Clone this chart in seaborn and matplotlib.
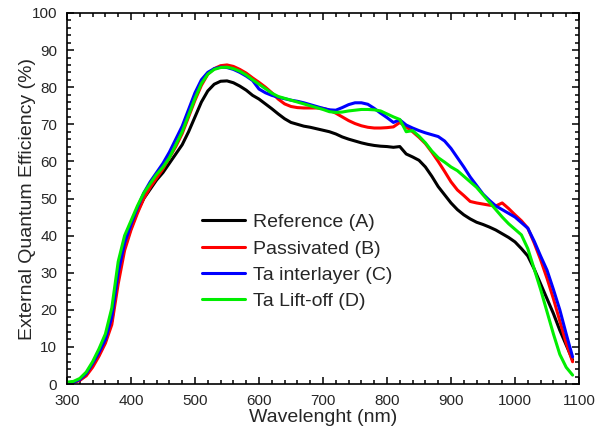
import pandas as pd
import numpy as np
import matplotlib
matplotlib.use("Agg")
import matplotlib.pyplot as plt
import seaborn as sns
from matplotlib.ticker import MultipleLocator

# wavelength grid (nm)
wavelength = list(range(300, 1100, 10))

ref_a = [0.3, 0.5, 1.0, 2.5, 5.0, 8.0, 11.5, 17, 29, 37,
         42, 46.5, 50, 52.5, 55, 57, 59.5, 62, 64.5, 68,
         72, 76, 79, 80.8, 81.6, 81.7, 81.2, 80.3, 79.2, 77.8,
         76.8, 75.5, 74.2, 72.8, 71.5, 70.5, 70.0, 69.5, 69.2, 68.8,
         68.4, 68.0, 67.4, 66.6, 66.0, 65.5, 65.0, 64.6, 64.3, 64.1,
         64.0, 63.8, 64.0, 62.0, 61.2, 60.3, 58.5, 56.0, 53.2, 51.0,
         48.8, 47.0, 45.6, 44.5, 43.6, 43.0, 42.3, 41.5, 40.5, 39.5,
         38.3, 36.5, 34.5, 31.0, 27.0, 23.0, 19.0, 14.5, 10.5, 6.5]

passivated_b = [0.3, 0.5, 1.0, 2.2, 4.5, 7.5, 11, 16, 27, 36,
                41.5, 46, 50, 53, 55.5, 58, 61, 64, 67.5, 72,
                76.5, 80.5, 83.5, 85, 85.8, 86, 85.6, 84.8, 83.8, 82.5,
                81.3, 80, 78.5, 76.8, 75.5, 74.8, 74.5, 74.4, 74.4, 74.4,
                74.3, 73.8, 73, 72, 71, 70.2, 69.6, 69.2, 69, 69,
                69.1, 69.3, 70.5, 69.3, 68, 66.5, 64.8, 62.5, 60, 57.3,
                54.5, 52.3, 50.8, 49.2, 48.8, 48.5, 48.2, 48, 48.8, 47.3,
                45.6, 44, 42, 38, 33.5, 28.5, 23, 17, 11, 6]

ta_interlayer_c = [0.3, 0.5, 1.2, 2.8, 5.5, 8.5, 12, 18, 30, 38,
                   43, 47.5, 51.5, 54.5, 57, 59.5, 62.5, 66, 69.5, 74,
                   78.5, 82, 84, 85, 85.4, 85.3, 84.8, 84, 83, 81.8,
                   79.5, 78.5, 77.8, 77.3, 76.9, 76.5, 76.2, 75.8, 75.3, 74.8,
                   74.3, 73.9, 73.8, 74.5, 75.3, 75.8, 75.8, 75.4, 74.3, 73,
                   71.8, 70.5, 71.2, 69.8, 69, 68.3, 67.7, 67.2, 66.7, 65.5,
                   63.5, 61, 58.5, 55.8, 53.5, 51.2, 49.5, 48, 47, 46,
                   45, 43.5, 42, 38.5, 34.5, 30.7, 25.5, 20, 13.5, 7.3]

ta_liftoff_d = [0.5, 0.7, 1.5, 3.2, 6, 9.5, 13.5, 20.5, 33, 40,
                44, 48, 51.5, 54, 56.5, 58.5, 61, 64.5, 68, 72.5,
                77, 81, 83.5, 84.8, 85.3, 85.4, 85, 84.3, 83.3, 82,
                80.8, 79.6, 78.4, 77.5, 77, 76.5, 76, 75.5, 75, 74.5,
                74, 73.4, 73.2, 73.3, 73.6, 73.8, 74, 74, 73.9, 73.6,
                72.8, 72, 71.3, 68, 68.3, 66.8, 65, 62.8, 61, 59.8,
                58.5, 57.5, 56, 54.5, 53, 51, 49, 47, 45, 43.2,
                41.7, 40.2, 36.5, 31, 25.5, 19.5, 13.5, 8, 4.5, 2.4]

labels = ['Reference (A)', 'Passivated (B)', 'Ta interlayer (C)', 'Ta Lift-off (D)']
colors = ['#000000', '#ff0000', '#0000ff', '#00ee00']

df = pd.DataFrame({'Wavelength': wavelength,
                   labels[0]: ref_a,
                   labels[1]: passivated_b,
                   labels[2]: ta_interlayer_c,
                   labels[3]: ta_liftoff_d})
long_df = df.melt(id_vars='Wavelength', var_name='Sample', value_name='EQE')

sns.set_style('ticks')
plt.rcParams['font.family'] = ['Liberation Sans', 'DejaVu Sans']

fig = plt.figure(figsize=(6.16, 4.34), dpi=100)
ax = fig.add_axes([67 / 616, 1 - 384 / 434, 512 / 616, 371 / 434])

sns.lineplot(data=long_df, x='Wavelength', y='EQE', hue='Sample',
             hue_order=labels, palette=colors, linewidth=2.2, ax=ax)

ax.set_xlim(300, 1100)
ax.set_ylim(0, 100)
ax.xaxis.set_major_locator(MultipleLocator(100))
ax.xaxis.set_minor_locator(MultipleLocator(20))
ax.yaxis.set_major_locator(MultipleLocator(10))
ax.yaxis.set_minor_locator(MultipleLocator(2))
ax.tick_params(which='both', direction='in', top=True, right=True,
               labelsize=11, width=1.1, color='black')
ax.tick_params(which='major', length=5, pad=7)
ax.tick_params(which='minor', length=3)
for s in ax.spines.values():
    s.set_linewidth(1.2)
    s.set_color('black')

ax.set_xlabel('Wavelenght (nm)', fontsize=14, labelpad=1)
ax.set_ylabel('External Quantum Efficiency (%)', fontsize=14, labelpad=-3)

ax.legend(loc='center left', bbox_to_anchor=(0.264, 0.329), frameon=False,
          fontsize=14, handlelength=2.2, handletextpad=0.4,
          labelspacing=0.45, borderpad=0, borderaxespad=0)

fig.savefig('out.png', dpi=100)
